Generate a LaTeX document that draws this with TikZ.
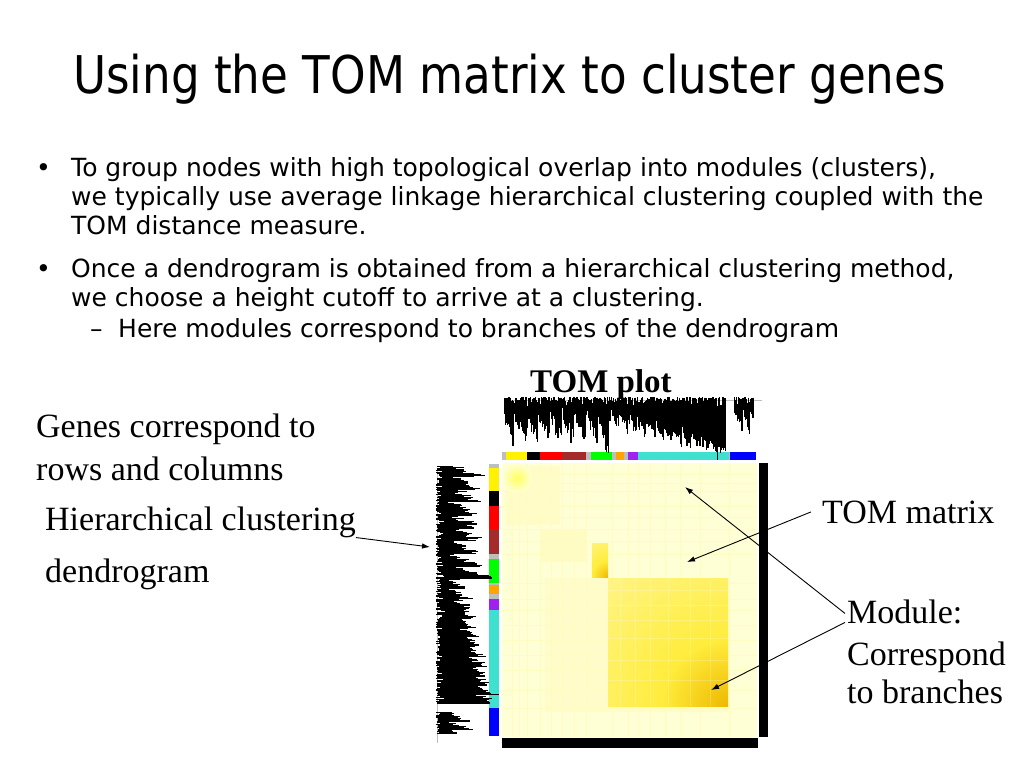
\documentclass[tikz,border=0pt]{standalone}
\usepackage{fontspec}
\setmainfont{Liberation Serif}
\newfontfamily\slidefont{DejaVu Sans}[FakeStretch=0.87]
\newfontfamily\bulletfont{DejaVu Sans}
\usetikzlibrary{arrows,arrows.meta,positioning,calc}

\definecolor{tomback}{RGB}{255,255,214}
\definecolor{tompale}{RGB}{255,252,200}
\definecolor{tomyellow}{RGB}{255,236,60}
\definecolor{tomhot}{RGB}{238,185,0}
\definecolor{modgrey}{RGB}{190,190,190}
\definecolor{modbrown}{RGB}{165,42,42}
\definecolor{modgreen}{RGB}{0,255,0}
\definecolor{modorange}{RGB}{255,165,0}
\definecolor{modpurple}{RGB}{160,32,240}
\definecolor{modturq}{RGB}{64,224,208}

\pgfdeclareradialshading{modshade}{\pgfpoint{0bp}{0bp}}{color(0bp)=(tomhot); color(5bp)=(tomyellow); color(21bp)=(tompale); color(50bp)=(tompale)}

\begin{document}
\begin{tikzpicture}[x=1pt, y=-1pt,
  slide/.style={anchor=base west, inner sep=0pt, font=\bulletfont\fontsize{25}{30}\selectfont},
  serifnote/.style={anchor=base west, inner sep=0pt, font=\fontsize{34}{41}\selectfont},
  dendroline/.style={line width=1.2pt, line cap=butt, black},
  tomarrow/.style={-{Latex[length=8pt,width=5.5pt]}, line width=0.9pt}]
\useasboundingbox[fill=white] (0,0) rectangle (1024,768);

\node (title) [anchor=base west, inner sep=0pt, font=\slidefont\fontsize{52}{62}\selectfont] at (73,93) {Using the TOM matrix to cluster genes};

\node (dotA) [slide] at (36,176) {•};
\node (bulA1) [slide] at (71,176) {To group nodes with high topological overlap into modules (clusters),};
\node (bulA2) [slide] at (71,205) {we typically use average linkage hierarchical clustering coupled with the};
\node (bulA3) [slide] at (71,234) {TOM distance measure.};
\node (dotB) [slide] at (36,277) {•};
\node (bulB1) [slide] at (71,277) {Once a dendrogram is obtained from a hierarchical clustering method,};
\node (bulB2) [slide] at (71,306) {we choose a height cutoff to arrive at a clustering.};
\node (dashC) [slide] at (90,337) {–};
\node (bulC1) [slide] at (118,337) {Here modules correspond to branches of the dendrogram};

% -------------------------------

\node (tomplot) [serifnote, font=\bfseries\fontsize{33}{40}\selectfont] at (530,392) {TOM plot};
\node (genes1) [serifnote] at (36,437) {Genes correspond to};
\node (genes2) [serifnote] at (36,480) {rows and columns};
\node (hier) [serifnote] at (45,530) {Hierarchical clustering};
\node (hier2) [serifnote] at (45,582) {dendrogram};
\node (tommat) [serifnote] at (822,523) {TOM matrix};
\node (modA) [serifnote] at (847,623) {Module:};
\node (modB) [serifnote] at (847,665) {Correspond};
\node (modC) [serifnote] at (847,703) {to branches};

% matrix
\fill[tomback] (502,463) rectangle (757,737);
\fill[yellow!6!tomback] (545,578) rectangle (730,712);
\fill[yellow!7!tomback] (506,466) rectangle (560,525);
\fill[yellow!9!tomback] (540,530) rectangle (586,562);
\foreach \p in {512,519,527,540,551,562,574,586,612,628,638,650,665,680,700,729}
  \draw[yellow!10!tomback, line width=0.7pt] (\p,463) -- (\p,737);
\foreach \p in {474,483,491,506,517,529,541,554,583,599,610,625,640,655,670,690,708}
  \draw[yellow!10!tomback, line width=0.7pt] (502,\p) -- (757,\p);
\shade[inner color=yellow!55!tomback, outer color=tomback] (517,478) circle (15);
\begin{scope}
  \clip (592,543) rectangle (608,577);
  \shade[shading=modshade] (608,577) circle (80);
\end{scope}
\begin{scope}
  \clip (608,578) rectangle (728,706);
  \shade[shading=modshade] (728,706) circle (330);
  \foreach \p in {620,635,650,668,690,710}
    \draw[white, opacity=0.2, line width=0.6pt] (\p,578) -- (\p,706) (608,\p-30) -- (728,\p-30);
\end{scope}
\fill[black] (759,463) rectangle (768,737);
\fill[black] (502,738) rectangle (758,748);

% module colour bars
\foreach \a/\b/\c in {502/506/modgrey, 506/527/yellow, 527/540/black, 540/562/red, 562/586/modbrown, 586/591/modgrey, 591/612/modgreen, 612/616/modgrey, 616/624/modorange, 624/628/modgrey, 628/638/modpurple, 638/729/modturq, 729/730/modgrey, 730/756/blue}
  \fill[\c] (\a,452) rectangle (\b,460);
\foreach \a/\b/\c in {464/468/modgrey, 468/491/yellow, 491/506/black, 506/529/red, 529/554/modbrown, 554/559/modgrey, 559/583/modgreen, 583/585/modgrey, 585/594/modorange, 594/599/modgrey, 599/610/modpurple, 610/708/modturq, 708/736/blue}
  \fill[\c] (489,\a) rectangle (499,\b);

% dendrograms
\draw[modgrey, line width=0.5pt] (505,400) -- (762,400);
\draw[modgrey, line width=0.5pt] (437,468) -- (437,743);
\pgfmathsetseed{42}
\foreach \t in {0.010,0.013,...,0.990} {
  \pgfmathsetmacro{\dep}{(\t<0.39) ? 8+26*mod(\t*254,12)/12+12*rnd : ((\t<0.42) ? 22+(\t-0.39)*1000+5*rnd : ((\t<0.88) ? 8+(\t-0.42)*70+12*mod(\t*254,9)/9+6*rnd : ((\t<0.912) ? 0 : 8+18*mod(\t*254,8)/8+8*rnd)))}
  \pgfmathsetmacro{\off}{1+10*rnd*rnd}
  \draw[dendroline] (502+254*\t, 396+\off) -- ++(0,\dep);
  \draw[dendroline] (435+\off, 464+272*\t) -- ++(\dep,0);
}

% arrows
\coordinate (dendtip) at (430,547);
\coordinate (tomtip) at (687,562);
\coordinate (modtipA) at (685,487);
\coordinate (modtipB) at (711,690);
\draw[tomarrow] (hier.south east) -- (dendtip);
\draw[tomarrow] ($(tommat.west)+(-11,0)$) -- (tomtip);
\draw[tomarrow] ($(modA.west)+(-2,2)$) -- (modtipA);
\draw[tomarrow] ($(modA.west)+(-2,11)$) -- (modtipB);
\end{tikzpicture}
\end{document}
